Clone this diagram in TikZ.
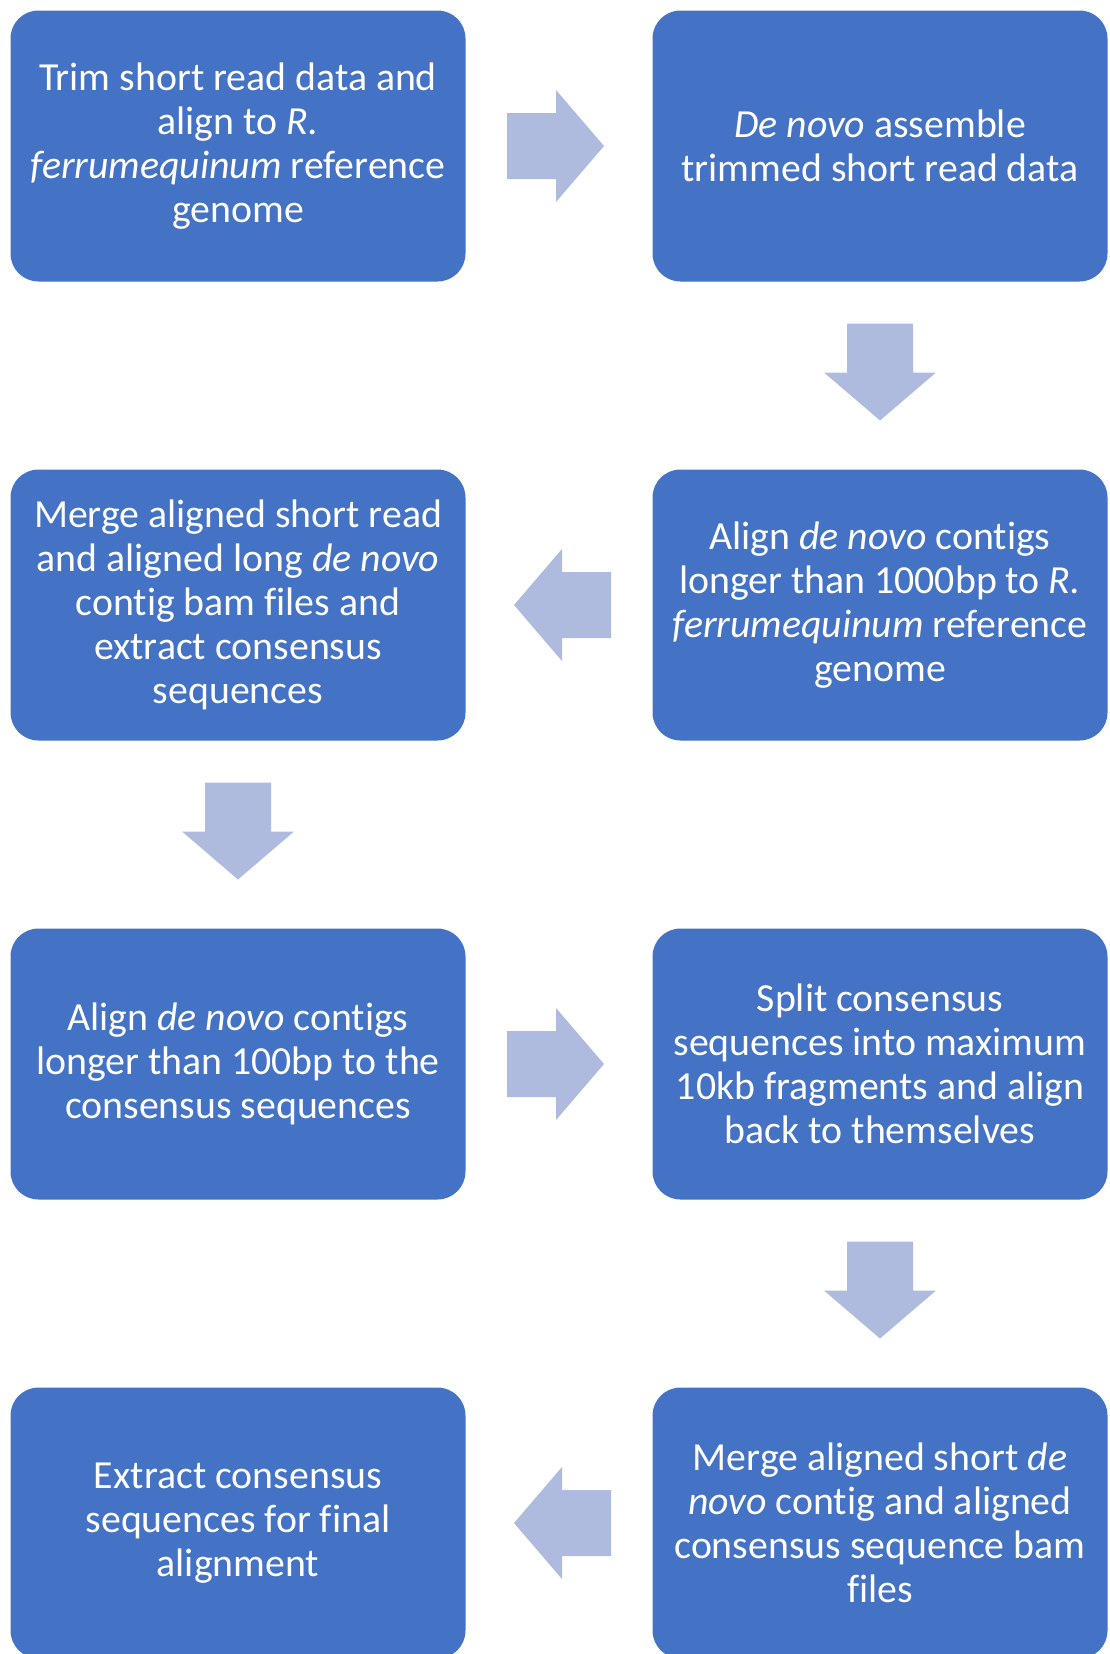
\documentclass[tikz,border=0pt]{standalone}
\usepackage{fontspec}
\setmainfont[Ligatures=NoCommon]{Carlito}
\usetikzlibrary{calc}

\definecolor{boxblue}{HTML}{4472C4}
\definecolor{arrowblue}{RGB}{175,187,222}

\tikzset{
  stepbox/.style={
    rectangle, rounded corners=14pt, fill=boxblue, draw=none,
    minimum width=227.5pt, minimum height=135.5pt,
    inner sep=0pt, align=center, text=white,
    font=\fontsize{19.9pt}{22pt}\selectfont
  },
  blockarrow/.style={fill=arrowblue, draw=none},
  pics/rarrow/.style={code={
    \fill[blockarrow] (-49,-33) -- (0,-33) -- (0,-56) -- (48,0) -- (0,56) -- (0,33) -- (-49,33) -- cycle;}},
  pics/larrow/.style={code={
    \fill[blockarrow] (49,-33) -- (0,-33) -- (0,-56) -- (-48,0) -- (0,56) -- (0,33) -- (49,33) -- cycle;}},
  pics/darrow/.style={code={
    \fill[blockarrow] (-33,-49) -- (33,-49) -- (33,0) -- (56,0) -- (0,48) -- (-56,0) -- (-33,0) -- cycle;}}
}

\begin{document}
\begin{tikzpicture}[x=0.5pt,y=-0.5pt]
  \useasboundingbox (0,0) rectangle (1109,1654);
  \clip (0,0) rectangle (1109,1654);

  % process steps
  \node[stepbox] (s1) at (238,146)  {Trim short read data and\\ align to \textit{R.}\\ \textit{ferrumequinum} reference\\ genome};
  \node[stepbox] (s2) at (880,146)  {\textit{De novo} assemble\\ trimmed short read data};
  \node[stepbox] (s3) at (880,605)  {Align \textit{de novo} contigs\\ longer than 1000bp to \textit{R.}\\ \textit{ferrumequinum} reference\\ genome};
  \node[stepbox] (s4) at (238,605)  {Merge aligned short read\\ and aligned long \textit{de novo}\\ contig bam files and\\ extract consensus\\ sequences};
  \node[stepbox] (s5) at (238,1064) {Align \textit{de novo} contigs\\ longer than 100bp to the\\ consensus sequences};
  \node[stepbox] (s6) at (880,1064) {Split consensus\\ sequences into maximum\\ 10kb fragments and align\\ back to themselves};
  \node[stepbox] (s7) at (880,1523) {Merge aligned short \textit{de}\\ \textit{novo} contig and aligned\\ consensus sequence bam\\ files};
  \node[stepbox] (s8) at (238,1523) {Extract consensus\\ sequences for final\\ alignment};

  % block arrows between consecutive steps
  \path ($(s1.east)!0.5!(s2.west)$) ++(-3,0) pic {rarrow};
  \path ($(s2.south)!0.5!(s3.north)$) ++(0,-3) pic {darrow};
  \path ($(s3.west)!0.5!(s4.east)$) ++(3,0) pic {larrow};
  \path ($(s4.south)!0.5!(s5.north)$) ++(0,-3) pic {darrow};
  \path ($(s5.east)!0.5!(s6.west)$) ++(-3,0) pic {rarrow};
  \path ($(s6.south)!0.5!(s7.north)$) ++(0,-3) pic {darrow};
  \path ($(s7.west)!0.5!(s8.east)$) ++(3,0) pic {larrow};
\end{tikzpicture}
\end{document}
